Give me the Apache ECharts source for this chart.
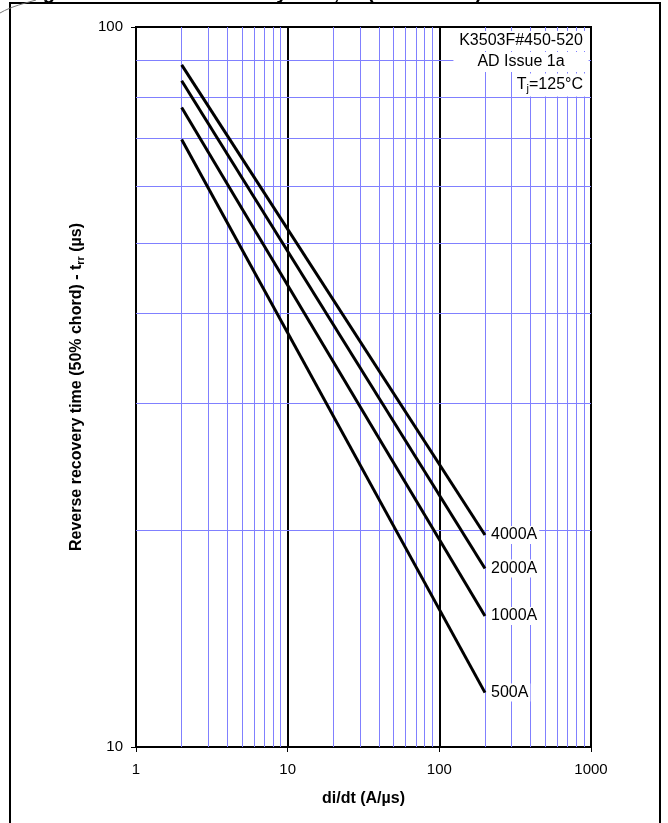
<!DOCTYPE html>
<html>
<head>
<meta charset="utf-8">
<script src="https://cdn.jsdelivr.net/npm/echarts@6/dist/echarts.min.js"></script>
<style>
html,body{margin:0;padding:0;background:#fff;}
#chart{width:668px;height:823px;}
</style>
</head>
<body>
<div id="chart"></div>
<script>
// ---- data ----
const seriesNames = ['4000A', '2000A', '1000A', '500A'];
const diDt = [2, 200];
const trr4000 = [88.6, 19.7];
const trr2000 = [84.2, 17.7];
const trr1000 = [77.3, 15.2];
const trr500 = [69.8, 11.9];
const xMinorGrid = [2, 3, 4, 5, 6, 7, 8, 9, 20, 30, 40, 50, 60, 70, 80, 90, 200, 300, 400, 500, 600, 700, 800, 900];
const yMinorGrid = [20, 30, 40, 50, 60, 70, 80, 90];
const xRange = [1, 1000];
const yRange = [10, 100];

const font = '"Liberation Sans", Arial, sans-serif';
const allVals = [trr4000, trr2000, trr1000, trr500];

const dataSeries = seriesNames.map((n, i) => ({
  name: n,
  type: 'line',
  data: diDt.map((x, j) => [x, allVals[i][j]]),
  symbol: 'none',
  lineStyle: { color: '#000', width: 3 },
  z: 5,
  endLabel: {
    show: true,
    formatter: n,
    color: '#000',
    fontFamily: font,
    fontSize: 16,
    backgroundColor: '#fff',
    padding: [1, 2],
    distance: 4
  }
}));

const gridSeries = {
  name: 'grid',
  type: 'line',
  data: [],
  silent: true,
  z: 1,
  markLine: {
    silent: true,
    symbol: 'none',
    label: { show: false },
    lineStyle: { color: '#8080ff', width: 1, type: 'solid', opacity: 1 },
    emphasis: { disabled: true },
    data: xMinorGrid.map(v => ({ xAxis: v })).concat(yMinorGrid.map(v => ({ yAxis: v })))
  }
};

const chart = echarts.init(document.getElementById('chart'), null, { renderer: 'canvas' });
chart.setOption({
  animation: false,
  backgroundColor: '#fff',
  grid: { left: 136, right: 77, top: 27, bottom: 76, show: true, borderColor: '#000', borderWidth: 2, backgroundColor: 'transparent' },
  xAxis: {
    type: 'log', logBase: 10, min: xRange[0], max: xRange[1], interval: 1,
    name: 'di/dt (A/µs)', nameLocation: 'middle', nameGap: 44,
    nameTextStyle: { fontFamily: font, fontSize: 16, fontWeight: 'bold', color: '#000' },
    axisLine: { lineStyle: { color: '#000', width: 2 } },
    axisTick: { show: true, length: 5, lineStyle: { color: '#000', width: 1 } },
    axisLabel: { fontFamily: font, fontSize: 15, color: '#000', margin: 15, formatter: v => String(v) },
    splitLine: { show: true, lineStyle: { color: '#000', width: 2 } },
    minorTick: { show: false }, minorSplitLine: { show: false }
  },
  yAxis: {
    type: 'log', logBase: 10, min: yRange[0], max: yRange[1], interval: 1,
    name: 'Reverse recovery time (50% chord) - t{sub|rr} (µs)', nameLocation: 'middle', nameGap: 50,
    nameTextStyle: { fontFamily: font, fontSize: 16, fontWeight: 'bold', color: '#000',
      rich: { sub: { fontFamily: font, fontSize: 11, fontWeight: 'bold', color: '#000', verticalAlign: 'bottom', padding: [7, 0, 0, 0] } } },
    axisLine: { lineStyle: { color: '#000', width: 2 } },
    axisTick: { show: true, length: 5, lineStyle: { color: '#000', width: 1 } },
    axisLabel: { fontFamily: font, fontSize: 15, color: '#000', margin: 13, formatter: v => String(v) },
    splitLine: { show: false }
  },
  graphic: [
    { type: 'rect', shape: { x: 10, y: 3, width: 650, height: 840 }, style: { fill: 'none', stroke: '#000', lineWidth: 2 }, z: 100 },
    { type: 'bezierCurve', shape: { x1: 0, y1: 13, x2: 36, y2: 0, cpx1: 12, cpy1: 6, cpx2: 26, cpy2: 3 }, style: { stroke: '#777', lineWidth: 1, fill: 'none' }, z: 100 },
    { type: 'text', x: 25, y: 3, z: 100, style: { text: 'Figure 9 - Reverse recovery time, t{sub|rr} (50% chord)', font: 'bold 20px ' + font, fill: '#000', textAlign: 'left', textVerticalAlign: 'bottom',
      rich: { sub: { font: 'bold 13px ' + font, fill: '#000', verticalAlign: 'bottom', padding: [0, 0, 0, 0] } } } },
    { type: 'text', x: 521, y: 41, z: 50, style: { text: 'K3503F#450-520', font: '16px ' + font, fill: '#000', textAlign: 'center', textVerticalAlign: 'middle', backgroundColor: '#fff', padding: [2, 3] } },
    { type: 'text', x: 521, y: 62, z: 50, style: { text: 'AD Issue 1a', font: '16px ' + font, fill: '#000', textAlign: 'center', textVerticalAlign: 'middle', backgroundColor: '#fff', padding: [2, 24] } },
    { type: 'text', x: 586, y: 85, z: 50, style: { text: 'T{sub|j}=125°C', font: '16px ' + font, fill: '#000', textAlign: 'right', textVerticalAlign: 'middle', backgroundColor: '#fff', padding: [2, 3],
      rich: { sub: { font: '11px ' + font, fill: '#000', verticalAlign: 'bottom', padding: [8, 0, 0, 0] } } } }
  ],
  series: [gridSeries].concat(dataSeries)
});
</script>
</body>
</html>
